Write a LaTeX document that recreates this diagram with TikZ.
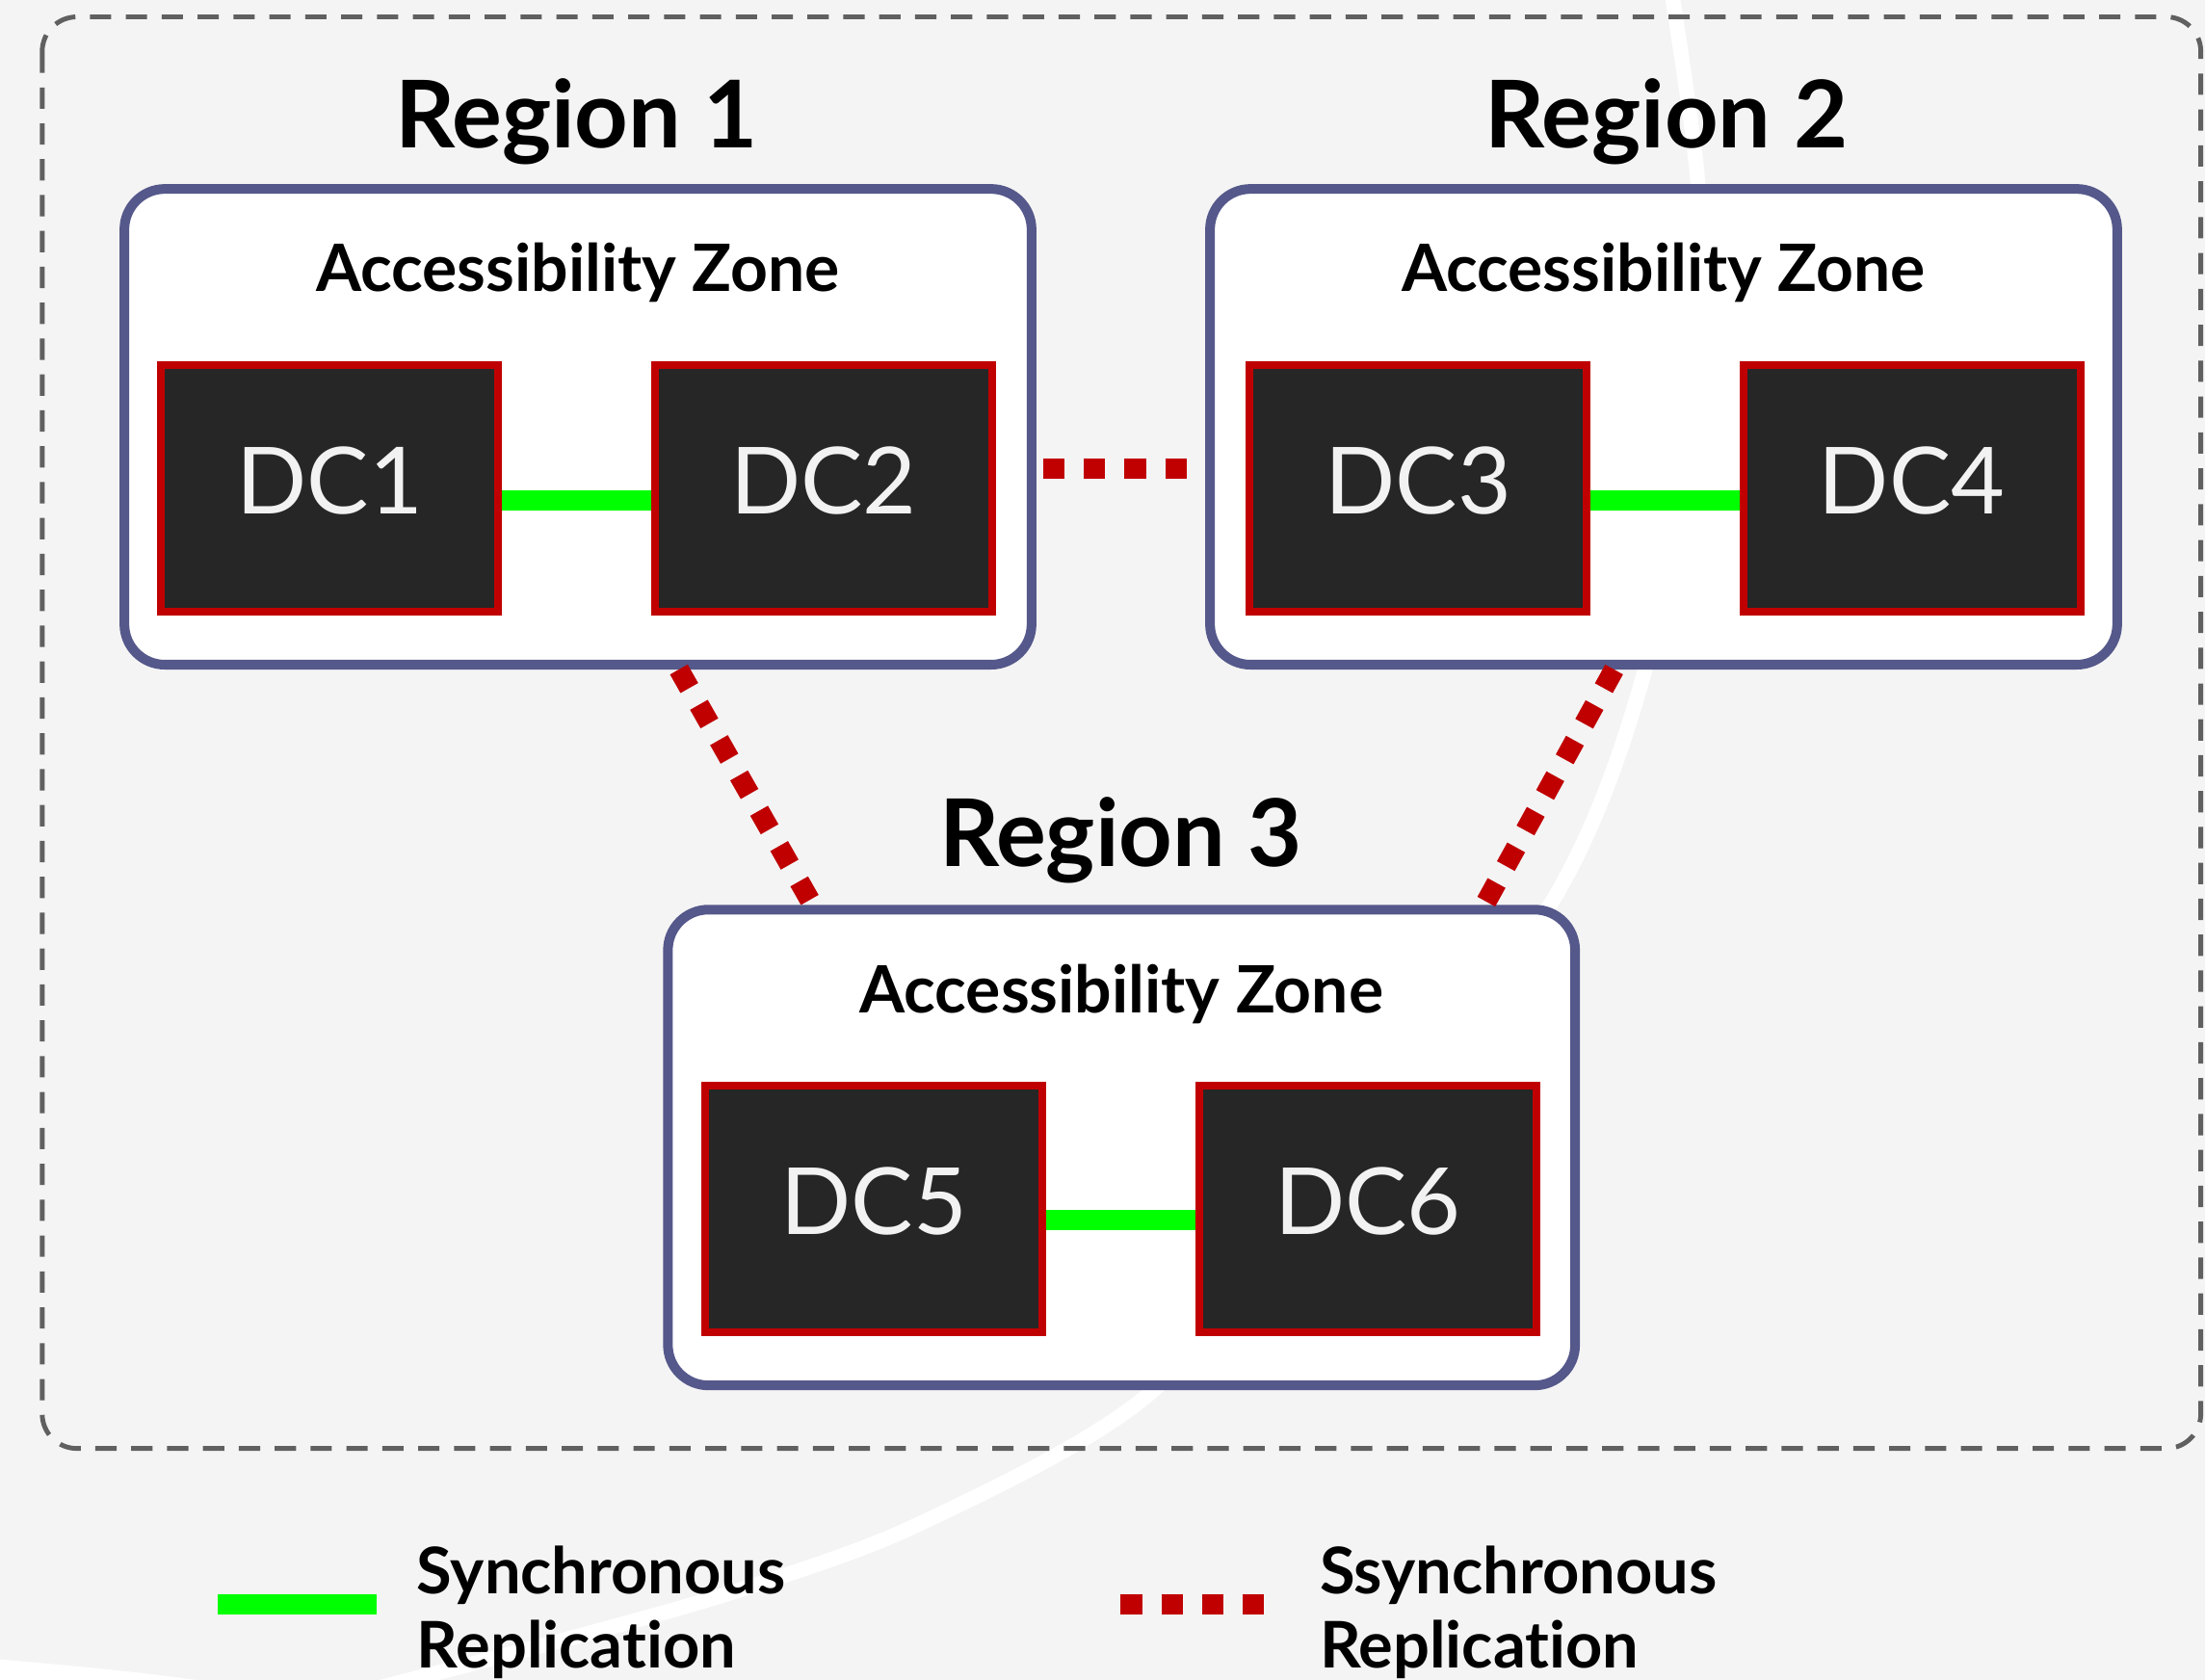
\documentclass[tikz,border=0pt]{standalone}
\usepackage{fontspec}
\setmainfont{Lato}[Ligatures={NoCommon}]
\usetikzlibrary{calc}

\definecolor{bggray}{HTML}{F4F4F4}
\definecolor{zoneblue}{HTML}{55588A}
\definecolor{dcred}{HTML}{C00000}
\definecolor{dcfill}{HTML}{262626}
\definecolor{dctext}{HTML}{F2F2F2}
\definecolor{syncgreen}{HTML}{00FF00}
\definecolor{framegray}{HTML}{606060}

\begin{document}
\begin{tikzpicture}[x=0.0146cm,y=-0.0146cm,
   zone/.style={draw=zoneblue,line width=2.85pt,fill=white,rounded corners=0.42cm,
     inner sep=0pt,minimum width=9.42cm,minimum height=4.94cm},
   dc/.style={draw=dcred,line width=2.3pt,fill=dcfill,text=dctext,inner sep=0pt,
     minimum width=3.5cm,minimum height=2.56cm,text depth=0.17cm,
     font=\fontsize{27.4}{33}\selectfont},
   region/.style={anchor=base,font=\fontsize{27.6}{33}\selectfont\bfseries},
   zonetitle/.style={anchor=base,font=\fontsize{19.3}{23}\selectfont\bfseries},
   sync/.style={syncgreen,line width=5.9pt},
   async/.style={dcred,line width=6pt,dash pattern=on 6.3pt off 5.7pt},
   legend/.style={anchor=base west,align=left,inner sep=0pt,
     font=\fontsize{19}{22}\selectfont\bfseries}]
   \fill[bggray] (0,0) rectangle (1568,1194.5);
   \useasboundingbox (0,0) rectangle (1568,1194.5);
   \fill[white] (0,1180) .. controls (70,1186) and (120,1191) .. (175,1200) -- (0,1200) -- cycle;
   \draw[white,line width=4.4pt] plot[smooth] coordinates
     {(1188,-10) (1207,126) (1211,260) (1169,479) (1105,639) (960,830) (815,993)
      (653,1084) (528,1130) (409,1164) (270,1200)};
   \draw[framegray,line width=1.4pt,dash pattern=on 6.3pt off 4.3pt,rounded corners=0.36cm]
     (30,12) rectangle (1565,1030);
   % regions
   \node[region] (reg1) at (410,105) {Region 1};
   \node[region] (reg2) at (1185,105) {Region 2};
   \node[region] (reg3) at (797,616) {Region 3};
   \node[zone] (az1) at (411,303.5) {};
   \node[zone] (az2) at (1183,303.5) {};
   \node[zone] (az3) at (797.5,816) {};
   \node[zonetitle] (zt1) at (411,207) {Accessibility Zone};
   \node[zonetitle] (zt2) at (1183,207) {Accessibility Zone};
   \node[zonetitle] (zt3) at (797.5,720) {Accessibility Zone};
   % data centres
   \node[dc] (dc1) at (234.5,347.5) {DC1};
   \node[dc] (dc2) at (585.5,347.5) {DC2};
   \node[dc] (dc3) at (1008.5,347.5) {DC3};
   \node[dc] (dc4) at (1359.5,347.5) {DC4};
   \node[dc] (dc5) at (621.5,859.5) {DC5};
   \node[dc] (dc6) at (972.5,859.5) {DC6};
   % replication
   \draw[sync] ([yshift=-1.2mm]dc1.east) -- ([yshift=-1.2mm]dc2.west);
   \draw[sync] ([yshift=-1.2mm]dc3.east) -- ([yshift=-1.2mm]dc4.west);
   \draw[sync] ([yshift=-1.2mm]dc5.east) -- ([yshift=-1.2mm]dc6.west);
   \draw[async] ([shift={(5,29.5)}]az1.east) -- ([shift={(-13,29.5)}]az2.west);
   \draw[async] ($(az1.south west)!0.61!(az1.south east)$)
     -- ($(az3.north west)!0.163!(az3.north east)$);
   \draw[async] ($(az2.south west)!0.446!(az2.south east)$)
     -- ($(az3.north west)!0.896!(az3.north east)$);
   % legend
   \node[legend] (legsync) at (296,1186) {Synchronous\\Replication};
   \node[legend] (legasync) at (938,1186) {Ssynchronous\\Replication};
   \coordinate (swsync) at (155,1141);
   \coordinate (swasync) at (797,1141);
   \draw[sync] (swsync) -- ++(113,0);
   \draw[async] (swasync) -- ++(102,0);
\end{tikzpicture}
\end{document}
